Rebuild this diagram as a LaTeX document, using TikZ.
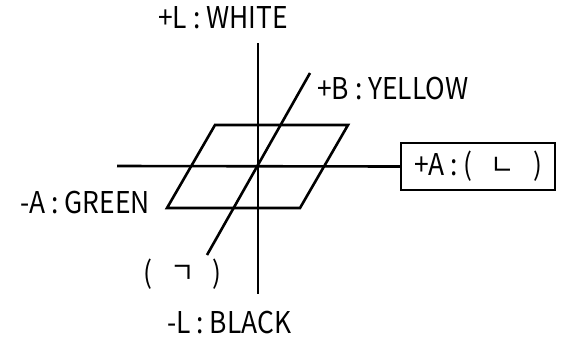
\documentclass[tikz,border=0pt]{standalone}
\usepackage{fontspec}
\setmainfont[FakeStretch=0.88]{Noto Sans CJK KR}
\usetikzlibrary{positioning, calc}
\tikzset{
  axis/.style={draw, line width=2.6pt},
  plane/.style={draw, line width=2.6pt, line join=miter},
  tag/.style={
    inner sep=0pt,
    anchor=west,
    font=\fontsize{30}{32}\selectfont
  },
  tagbox/.style={
    rectangle,
    draw,
    line width=1.8pt,
    minimum width=154pt,
    minimum height=47pt,
    inner sep=0pt,
    font=\fontsize{30}{32}\selectfont
  }
}
\newcommand{\jamogap}{\hspace{18pt}}

\begin{document}
\begin{tikzpicture}[x=1pt, y=-1pt]
  \useasboundingbox (0,0) rectangle (564,341);

  % axis ends
  \coordinate (origin) at (258,166);
  \coordinate (ltop) at (258,43);
  \coordinate (lbot) at (258,294);
  \coordinate (aleft) at (117,166);
  \coordinate (btop) at (310,73);
  \coordinate (bbot) at (207,255);

  \node[tagbox] (aplus) at (478,166.5) {+A : (\jamogap ㄴ\jamogap )};

  % a-b plane
  \draw[plane] (215,125) -- (348,125) -- (300,208) -- (167,208) -- cycle;

  \draw[axis] (ltop) -- (lbot);
  \draw[axis] (aleft) -- (aplus.west);
  \draw[axis] (bbot) -- (btop);

  \node[tag] (lwhite) at (158,18) {+L : WHITE};
  \node[tag] (byellow) at (317,88) {+B : YELLOW};
  \node[tag] (agreen) at (20,202) {-A : GREEN};
  \node[tag] (bminus) at (143,274) {(\jamogap ㄱ\jamogap )};
  \node[tag] (lblack) at (167,322) {-L : BLACK};
\end{tikzpicture}
\end{document}
